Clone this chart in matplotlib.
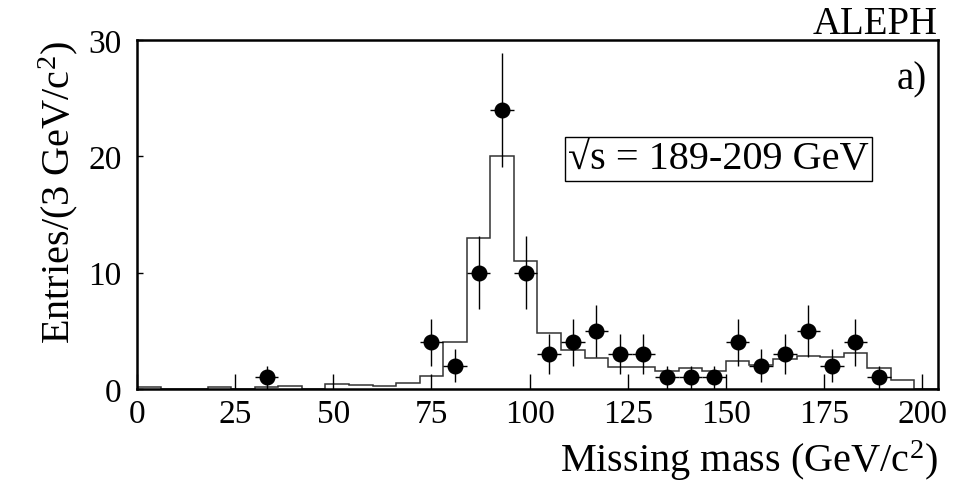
import numpy as np
import matplotlib
matplotlib.use('Agg')
import matplotlib.pyplot as plt

plt.rcParams['font.family'] = ['Liberation Serif', 'DejaVu Serif']
plt.rcParams['mathtext.fontset'] = 'custom'
plt.rcParams['mathtext.rm'] = 'Liberation Serif'
plt.rcParams['mathtext.it'] = 'Liberation Serif:italic'

# 6 GeV bins from 0 to 204
bin_edges = np.arange(0, 205, 6)

# simulated expectation (histogram), one value per bin
mc_values = [0.2, 0.0, 0.0, 0.2, 0.0, 0.15, 0.25, 0.0, 0.43, 0.37,
             0.28, 0.5, 1.1, 4.0, 13.0, 20.0, 11.0, 4.8, 3.35, 2.66,
             1.9, 1.86, 1.57, 1.77, 1.5, 2.4, 2.06, 2.58, 2.86, 2.72,
             3.06, 1.8, 0.8, 0.0]

# data points (bin centres and entries)
data_x = [33, 75, 81, 87, 93, 99, 105, 111, 117, 123, 129,
          135, 141, 147, 153, 159, 165, 171, 177, 183, 189]
data_n = [1, 4, 2, 10, 24, 10, 3, 4, 5, 3, 3,
          1, 1, 1, 4, 2, 3, 5, 2, 4, 1]

fig = plt.figure(figsize=(9.62, 4.85), dpi=100)
ax = fig.add_axes([0.1424, 0.196, 0.8326, 0.7195])

ax.stairs(mc_values, bin_edges, color='#333333', linewidth=1.1)

n = np.array(data_n, dtype=float)
ax.errorbar(data_x, n, xerr=3, yerr=np.sqrt(n), fmt='o', color='black',
            markersize=10.5, elinewidth=1.0, capsize=0)

ax.set_xlim(0, 204)
ax.set_ylim(0, 30)
ax.set_xticks([0, 25, 50, 75, 100, 125, 150, 175, 200])
ax.set_yticks([0, 10, 20, 30])
ax.tick_params(axis='x', direction='in', length=11, width=1, labelsize=24, pad=7)
ax.tick_params(axis='y', direction='in', length=4, width=1, labelsize=24, pad=11)
for s in ax.spines.values():
    s.set_linewidth(1.8)

ax.set_xlabel('Missing mass (GeV/c$^2$)', fontsize=29, loc='right', labelpad=6)
ax.set_ylabel('Entries/(3 GeV/c$^2$)', fontsize=29, loc='top', labelpad=6)

ax.text(1.0, 1.02, 'ALEPH', transform=ax.transAxes, ha='right', va='baseline',
        fontsize=28)
ax.text(0.986, 0.86, 'a)', transform=ax.transAxes, ha='right', va='baseline',
        fontsize=28)
ax.text(0.538, 0.659, '\u221as = 189-209 GeV', transform=ax.transAxes,
        ha='left', va='center', fontsize=29,
        bbox=dict(boxstyle='square,pad=0.08', facecolor='white',
                  edgecolor='black', linewidth=1.0))

plt.savefig('out.png', dpi=100)
